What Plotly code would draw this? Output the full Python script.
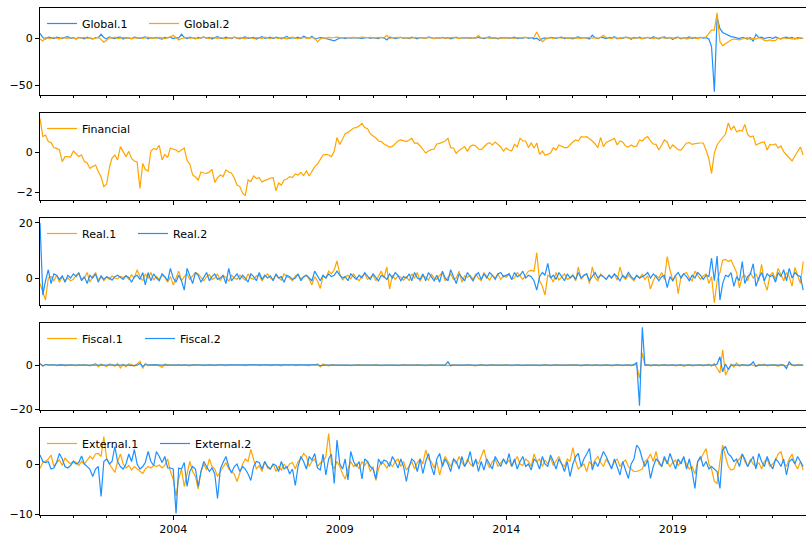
import pandas as pd
import plotly.graph_objects as go
from plotly.subplots import make_subplots

# Monthly observations, Jan 2000 - Dec 2022
dates = pd.date_range("2000-01-01", periods=276, freq="MS")

global_1 = [
    5.0, 0.5, -1.0, 1.0, 0.5, -0.5, 1.0, 0.0, -0.5, 0.8, 1.5, -0.3,
    0.5, -1.0, 0.8, 0.2, -0.8, 1.0, 0.0, -1.2, 0.6, 0.3, 4.0, 0.5,
    -0.8, 1.2, 0.0, -0.5, 0.8, 1.0, -1.0, 0.4, 0.0, -0.6, 0.9, 0.2,
    -0.4, 0.6, 1.2, -0.8, 0.3, 0.0, 0.8, -0.5, -1.0, 0.7, 0.2, 1.0,
    -0.6, 0.5, 0.0, 4.0, 0.8, -0.5, 1.0, 0.3, -0.8, 0.6, 0.0, 1.2,
    -0.3, 0.8, -1.0, 0.5, 1.5, 0.0, -0.6, 0.9, 0.3, -0.5, 1.0, 0.2,
    -0.8, 0.6, 1.2, -0.4, 0.0, 0.8, -1.0, 0.5, 1.5, -0.3, 0.2, 0.9,
    -0.5, 1.0, 0.3, -0.8, 0.6, 1.8, -0.6, 0.4, 0.0, 1.0, -0.4, 2.0,
    0.5, -0.3, 2.0, -0.8, -0.2, 0.6, 0.3, -0.5, -1.5, -1.5, -3.0, -1.5,
    0.0, 0.4, -0.5, 0.3, -0.2, 0.5, 0.0, 0.3, -0.4, 0.2, 0.6, -0.3,
    0.4, 0.0, -0.6, 0.8, 0.2, -2.0, 1.0, 0.5, -0.5, 0.2, 0.8, -0.4,
    0.3, -0.5, 1.0, 0.2, -0.8, 0.6, 0.0, -0.4, 1.2, 0.3, -0.6, 0.5,
    0.0, 0.8, -0.3, 0.5, -0.8, 0.2, 1.0, -0.5, 0.3, 0.0, 0.6, -0.4,
    0.5, -0.2, 0.8, 0.0, -0.6, 0.4, 1.2, -0.3, 0.2, -0.8, 0.5, 0.0,
    0.6, -0.4, 0.3, 1.0, -0.5, 0.2, 0.0, 0.8, -0.3, 0.5, -0.8, 0.0,
    -2.5, -0.5, 0.2, -0.6, 0.8, 0.0, -0.4, 0.6, 1.0, -0.5, 0.3, 0.0,
    -0.8, 0.5, 1.2, -0.3, 0.6, 0.0, -1.0, 3.0, 0.3, -0.5, 0.8, 0.5,
    -0.5, 0.8, 0.0, 1.5, -0.8, 0.3, -0.4, 1.0, 0.5, -1.2, 0.6, 0.0,
    1.0, -0.5, 0.3, 0.8, -0.6, 1.5, 0.0, -0.8, 0.5, 1.2, -0.3, 0.6,
    -1.5, 0.5, 1.0, -0.8, 0.3, 0.0, 1.2, -0.5, 0.6, -0.3, 0.8, 0.0,
    0.5, -1.0, -9.0, -57.0, 22.0, 10.0, 6.0, 4.5, 3.0, 1.5, 1.0, 0.5,
    -0.5, 0.8, 0.0, -1.0, 0.6, -3.5, 4.0, 0.5, 1.0, -0.5, 0.3, 0.8,
    -0.6, 1.2, 0.0, -0.8, 0.5, 1.0, -0.3, 0.6, -1.0, 0.4, 0.0, -0.5,
]

global_2 = [
    -1.0, -3.0, 0.5, 0.0, -0.5, 0.8, 0.2, -0.8, 0.5, 0.0, -0.3, 0.6,
    0.2, -0.5, 0.4, 0.0, 0.8, -0.3, 0.5, -0.6, 0.0, 1.0, -1.5, -4.5,
    -2.0, 0.5, 0.0, 1.0, -0.5, 0.3, 0.8, -0.2, 0.5, -0.8, 0.3, 0.0,
    0.6, -0.4, 0.2, 1.0, -0.6, 0.3, 0.0, 0.8, 0.2, -0.5, 0.6, 1.2,
    3.0, 0.5, -2.0, -0.5, 0.3, 0.8, -0.3, 0.5, 0.0, -0.6, 0.4, 1.0,
    0.2, -0.5, 0.8, 0.0, -0.4, 0.6, 0.3, -0.8, 0.5, 0.0, 1.0, -0.3,
    0.5, 0.0, -0.6, 0.8, 0.3, -0.5, 0.6, 0.0, -0.3, 1.0, 0.2, -0.5,
    0.6, 0.0, -0.4, 0.5, 0.2, -0.8, 0.4, 1.0, 0.0, -0.5, 0.3, 0.8,
    0.0, -0.3, 0.6, 0.2, -4.0, -1.0, 0.5, 0.0, 0.8, 0.3, 0.6, 1.0,
    0.5, 0.8, 0.3, 0.6, 0.2, 0.8, 0.5, 0.3, 1.0, 0.6, 0.4, 0.8,
    0.5, 0.2, 0.8, 0.6, 0.3, 3.0, -0.5, 0.4, 0.6, 0.2, 0.8, 0.3,
    0.6, 0.3, 0.0, 0.8, 0.4, 0.2, 0.5, 0.0, 0.6, 0.3, -0.3, 0.5,
    0.2, 0.6, 0.3, 0.0, 0.5, 0.8, 0.2, -0.4, 0.3, 0.6, 0.0, 0.4,
    0.5, 0.2, 3.0, 0.0, 0.4, 0.6, -0.3, 0.5, 0.2, 0.0, 0.6, 0.3,
    0.0, 0.5, 0.3, -0.4, 0.6, 0.2, 0.8, 0.5, 0.0, 0.4, 0.8, 6.5,
    0.5, -4.0, -1.5, 0.0, 0.3, -0.5, 0.6, 0.2, 0.0, 0.8, -0.3, 0.4,
    0.3, 0.6, 0.0, -0.4, 0.5, 0.2, 0.8, 0.0, 0.4, -0.3, 0.6, 3.0,
    0.5, 0.0, -0.3, 0.6, 0.2, -0.5, 0.4, 0.8, 0.0, 0.3, -0.4, 0.6,
    0.0, -0.5, 0.3, 0.8, 0.2, -0.6, 0.5, 0.0, 1.0, -0.3, 0.4, 0.6,
    0.2, -0.4, 0.6, 0.0, 0.5, -1.0, 0.3, 0.8, 0.0, -0.5, 0.4, 0.6,
    1.0, 5.0, 8.5, 8.5, 27.0, -4.0, -8.0, -6.0, -4.0, -2.0, -1.0, -1.5,
    -2.0, -1.0, -0.5, 0.5, -1.5, 0.0, -1.0, 0.3, -0.5, -2.5, -3.0, -2.0,
    -3.0, -2.5, 0.0, -1.0, 0.5, -0.5, 0.3, -1.0, 0.0, -0.8, 0.5, -0.5,
]

financial = [
    1.68, 0.77, 0.85, 0.52, 0.47, 0.22, 0.18, 0.10, -0.48, -0.23, -0.23, -0.25,
    0.05, -0.10, -0.22, -0.15, -0.48, -0.55, -0.82, -0.72, -0.65, -0.98, -1.25, -1.73,
    -1.60, -0.75, -0.30, -0.15, -0.40, 0.27, 0.05, -0.23, 0.03, -0.32, -0.45, -0.50,
    -1.82, -0.57, -0.88, -0.95, 0.05, 0.18, 0.12, 0.33, -0.40, -0.12, -0.28, 0.20,
    0.14, 0.10, 0.00, 0.10, 0.20, -0.43, -0.60, -1.15, -1.25, -1.40, -1.00, -1.05,
    -1.07, -1.00, -0.87, -1.52, -1.28, -1.15, -1.23, -0.90, -1.00, -1.05, -1.30, -1.65,
    -1.73, -2.07, -2.18, -1.40, -1.48, -1.20, -1.32, -1.28, -1.50, -1.42, -1.38, -1.30,
    -1.28, -1.95, -1.55, -1.65, -1.40, -1.35, -1.23, -1.28, -1.10, -1.15, -1.02, -1.18,
    -0.95, -1.20, -0.95, -0.73, -0.60, -0.35, -0.15, -0.12, -0.15, -0.23, 0.03, 0.72,
    0.38, 0.65, 0.92, 0.98, 1.10, 1.20, 1.22, 1.30, 1.43, 1.22, 1.16, 0.92,
    0.80, 0.70, 0.55, 0.52, 0.40, 0.34, 0.25, 0.28, 0.43, 0.55, 0.60, 0.55,
    0.52, 0.60, 0.68, 0.43, 0.45, 0.30, 0.10, -0.05, 0.05, 0.12, 0.15, 0.40,
    0.43, 0.48, 0.55, 0.68, 0.22, 0.20, -0.07, 0.08, 0.20, 0.27, 0.03, 0.28,
    0.35, 0.30, 0.15, 0.12, 0.25, 0.40, 0.47, 0.35, 0.50, 0.40, 0.25, 0.05,
    0.20, 0.10, 0.05, 0.38, 0.25, 0.68, 0.55, 0.55, 0.22, 0.45, 0.20, 0.45,
    -0.12, 0.05, -0.15, -0.12, -0.05, 0.22, 0.10, 0.35, 0.30, 0.22, 0.22, 0.38,
    0.50, 0.60, 0.55, 0.77, 0.75, 0.77, 0.68, 0.55, 0.40, 0.22, 0.73, 0.27,
    0.48, 0.55, 0.65, 0.68, 0.35, 0.55, 0.50, 0.30, 0.25, 0.35, 0.27, 0.30,
    0.60, 0.55, 0.70, 0.77, 0.55, 0.40, 0.38, 0.10, 0.35, 0.60, 0.50, 0.15,
    0.35, 0.25, 0.12, 0.10, 0.25, 0.45, 0.47, 0.38, 0.42, 0.45, 0.45, 0.45,
    0.10, -0.35, -1.07, -0.05, 0.35, 0.55, 0.75, 0.90, 1.45, 1.10, 1.30, 1.00,
    1.08, 1.05, 1.38, 0.88, 0.75, 0.80, 0.35, 0.42, 0.48, 0.50, 0.10, 0.38,
    0.35, 0.40, 0.20, 0.30, 0.02, -0.15, -0.30, -0.45, -0.20, 0.05, 0.25, -0.15,
]

real_1 = [
    -2.0, -5.0, -8.0, 0.0, 0.5, -1.0, 1.0, -1.5, 0.5, -1.0, 0.0, -1.0,
    -0.5, 1.0, 1.5, -0.5, 0.0, 2.0, -1.5, 0.5, 2.0, -0.8, 0.5, -1.0,
    0.3, -0.5, 0.8, 0.0, -0.3, 0.6, 0.2, 0.8, -0.5, 1.2, 0.0, 3.0,
    0.5, -1.0, 1.5, 0.0, 2.0, -0.8, 0.6, -0.5, 1.0, 0.3, -1.5, 0.5,
    -2.5, 0.0, 2.5, -1.0, 0.5, 1.5, -0.5, 0.8, 2.0, 1.5, 0.0, -1.0,
    0.5, 1.2, -0.5, 0.0, 1.5, -1.0, 0.8, 0.3, -1.2, 1.0, 0.0, -0.5,
    1.0, 0.2, -0.8, 1.5, 0.0, -0.5, 0.8, 1.0, -1.0, 0.5, 1.5, 0.0,
    -0.5, 1.0, 0.3, -0.8, 1.5, 0.5, 0.0, -1.0, 0.8, 1.2, -0.3, 0.5,
    1.0, -0.5, -2.5, 0.5, -1.0, -3.8, 0.8, 0.0, 2.5, 1.5, 3.0, 6.2,
    1.5, -0.8, 0.5, 1.0, -0.3, 1.5, 0.0, -1.0, 0.8, 1.5, -0.5, 0.3,
    1.0, -1.0, 0.5, 2.5, 0.0, 4.0, -4.0, 1.0, -0.5, 0.8, 0.3, -0.8,
    0.5, -1.0, 1.5, 0.0, 2.0, -1.2, 0.8, 0.3, -0.8, 1.5, 0.0, -0.5,
    1.0, 2.0, -1.0, 0.5, 1.5, -0.5, 0.0, 2.5, -1.5, 0.8, 0.3, 1.0,
    -0.5, 1.5, 0.0, -1.0, 2.0, 0.5, -0.8, 1.0, 0.0, 1.5, -0.5, 0.8,
    0.3, 1.5, -0.5, 0.0, 2.0, 0.8, -0.5, 1.0, 2.5, 2.8, 2.5, 9.2,
    -1.0, -3.0, -6.2, 1.0, 0.5, -1.5, 2.0, -0.8, 0.5, 1.5, -0.5, 0.0,
    1.0, -1.0, 4.0, -0.5, 0.8, 1.5, -2.0, 4.0, 0.0, -1.0, 1.5, 0.5,
    -0.5, 1.0, 0.0, 1.5, -0.8, 4.0, 0.5, -0.5, 1.0, 0.0, -1.0, 0.8,
    0.0, 1.5, -0.5, 0.8, -4.0, -1.0, 1.0, 0.0, 2.0, -0.5, 7.8, 3.0,
    -1.0, 1.0, -5.7, 0.5, 1.5, 2.0, 0.0, -1.0, 2.5, 1.0, -0.5, 0.8,
    1.5, -2.0, 0.5, -9.0, -1.0, 2.0, 6.5, 6.8, 6.0, 6.5, 4.0, 2.0,
    -3.6, 0.5, 1.0, -1.0, 2.0, 0.0, 1.5, -1.0, 5.0, -1.5, -4.5, 1.0,
    2.0, -0.5, 3.5, 1.0, -1.0, 2.0, 0.5, -3.0, 3.8, 1.0, -2.0, 6.0,
]

real_2 = [
    20.0, -6.2, -1.0, 3.0, -2.0, 1.5, 1.0, -0.5, 0.8, -1.5, 1.0, 0.0,
    1.5, 0.5, 2.0, -1.0, 0.5, -2.0, 1.0, 0.0, 1.5, -1.5, 0.8, -0.5,
    0.5, 0.0, -0.8, 0.5, 1.0, 0.3, -0.5, 0.8, 0.2, -1.5, 0.5, 1.0,
    -0.5, 2.0, -2.5, 2.0, -1.0, 1.5, 0.0, -1.0, 1.5, 0.5, -1.0, 3.5,
    0.0, -1.5, 1.0, -1.0, -4.4, 3.5, 0.5, -2.0, 2.0, 1.0, -1.5, 0.5,
    2.0, -1.0, 0.5, 1.5, -0.5, 0.0, 1.0, -2.0, 3.5, -1.0, 0.5, 1.5,
    -0.5, 1.0, 0.0, -1.5, 1.5, 0.5, -1.0, 2.0, -0.5, 1.0, 0.0, 0.8,
    -1.0, 1.5, 0.0, 0.5, -1.5, 1.0, 0.5, -0.5, 0.0, 1.5, -1.0, 0.5,
    1.0, 0.0, -1.0, 2.5, 0.5, -1.0, 1.0, 0.0, 1.5, 0.5, 1.0, 2.5,
    1.0, 0.0, 0.5, -1.0, 1.5, 0.5, -0.5, 1.0, 0.0, 2.0, 0.5, -0.5,
    1.5, 0.0, -1.0, 1.0, 0.5, -0.5, 1.5, 0.0, 2.0, 1.0, -1.0, 0.5,
    0.0, 1.5, -1.0, 2.0, 0.0, -0.5, 1.5, -1.0, 2.0, 0.5, -1.0, 1.0,
    -1.5, 2.5, 0.0, -1.0, 3.0, 0.5, -2.0, 1.5, 0.0, -1.0, 2.0, 0.5,
    -1.0, 1.0, 2.0, -0.5, 1.5, 0.0, 2.0, 1.0, -0.5, 1.5, 2.0, 0.5,
    1.0, 1.5, -0.5, 2.0, 0.5, 1.0, 2.5, 0.0, 1.0, 0.5, -1.0, -4.4,
    0.5, 2.0, 1.0, 5.3, 0.0, 1.0, -0.5, 2.0, 0.5, -1.0, 1.5, 0.0,
    1.0, -0.5, 2.0, 0.0, 1.0, 1.5, -1.0, 0.5, 2.0, 0.0, 1.0, 0.5,
    -0.5, 1.0, 0.0, 1.5, 0.5, -1.0, 1.0, 0.0, 2.0, 0.5, -0.5, 1.0,
    0.0, 0.5, 1.0, 2.0, 0.0, 1.5, 0.5, -1.0, 0.5, 1.0, -3.5, 0.5,
    -1.0, 1.0, 2.0, 0.0, 1.5, 0.5, -1.0, 1.0, 0.0, 2.0, 1.0, -0.5,
    1.0, 0.5, 7.2, -1.0, 8.0, -8.0, -2.0, 1.0, 0.5, 2.0, -3.0, 0.5,
    -1.0, 6.0, -2.0, 0.5, 1.5, 5.2, -3.0, 0.0, 2.0, -1.0, 1.5, 0.5,
    1.0, -1.5, 2.0, 0.5, 3.0, -1.0, 3.5, 0.0, 2.0, 1.0, 0.5, -4.4,
]

fiscal_1 = [
    0.5, -0.5, 0.3, 0.0, 0.0, 0.2, -0.2, 0.0, 0.3, -0.3, 0.0, 0.2,
    0.0, -0.2, 0.2, 0.0, 0.3, 0.0, -0.3, 0.2, 0.8, -0.8, 0.5, 0.0,
    -0.6, 0.6, 0.3, -0.5, 0.8, -1.2, 0.5, -0.8, 0.6, 0.3, -0.5, 0.6,
    1.8, -1.5, 0.8, -0.3, 0.2, 0.0, 0.3, -0.3, -1.0, 0.5, 0.0, 0.2,
    0.0, 0.0, 0.2, -0.2, 0.3, 0.0, -0.3, 0.2, 0.0, 0.3, 0.0, -0.2,
    0.0, 0.2, 0.0, -0.2, 0.0, 0.3, 0.0, -0.2, 0.0, 0.2, 0.0, 0.0,
    0.2, 0.0, -0.2, 0.0, 0.2, 0.0, 0.3, -0.2, 0.0, 0.2, 0.0, -0.2,
    0.0, 0.2, 0.0, -0.3, 0.2, 0.0, 0.0, 0.3, -0.2, 0.0, 0.2, 0.0,
    0.0, -0.2, 0.3, 0.0, 0.5, -0.8, 0.6, 0.0, -0.3, 0.2, 0.0, 0.0,
    0.0, 0.0, 0.2, 0.0, -0.2, 0.0, 0.0, 0.2, 0.0, 0.0, -0.2, 0.0,
    0.0, 0.2, 0.0, -0.2, 0.0, 0.0, 0.2, 0.0, 0.0, -0.2, 0.0, 0.2,
    0.0, 0.0, -0.2, 0.0, 0.2, 0.0, 0.0, -0.2, 0.0, 0.2, 0.0, 0.0,
    0.2, 0.0, 0.0, -0.2, 0.0, 0.3, 0.0, 0.0, -0.2, 0.0, 0.2, 0.0,
    0.0, -0.3, 0.0, 0.3, 0.0, -0.2, 0.0, 0.2, 0.0, 0.0, -0.3, 0.0,
    0.2, 0.0, -0.2, 0.0, 0.3, 0.0, -0.2, 0.0, 0.0, 0.2, 0.0, 0.0,
    -0.2, 0.0, 0.3, 0.0, -0.2, 0.0, 0.2, 0.0, 0.0, -0.2, 0.0, 0.2,
    0.0, 0.3, 0.0, -0.3, 0.0, 0.2, 0.0, -0.2, 0.3, 0.0, -0.2, 0.0,
    0.2, 0.0, -0.3, 0.0, 0.3, 0.0, -0.2, 0.0, 0.3, -0.3, 0.5, 0.0,
    -6.0, 5.6, 0.0, 0.3, -0.3, 0.0, 0.2, -0.3, 0.0, 0.4, -0.2, 0.0,
    0.2, -0.3, 0.0, 0.3, -0.5, 0.0, 0.3, -0.3, 0.0, 0.0, 0.3, -0.3,
    0.0, 0.5, -0.5, 0.8, -1.5, -3.5, 7.0, -4.5, -2.0, 0.5, -0.8, 1.0,
    -0.5, 0.3, 0.0, -0.3, 0.5, 0.0, -0.5, 0.3, 0.0, 0.5, -0.3, 0.0,
    0.3, 0.0, -0.5, 0.3, 0.0, -0.3, 0.5, 0.0, -0.3, 0.3, 0.0, 0.0,
]

fiscal_2 = [
    0.8, -0.3, 0.3, 0.0, 0.2, 0.0, 0.0, 0.1, 0.0, 0.0, 0.1, 0.0,
    0.0, 0.0, 0.1, 0.0, 0.0, 0.0, -0.1, 0.0, 0.0, 0.1, 0.0, 0.0,
    0.0, 0.1, 0.0, 0.0, -0.1, 0.0, 0.0, 0.2, 0.0, -0.2, 0.0, 0.0,
    0.8, -0.6, 0.3, 0.0, 0.0, 0.1, 0.0, 0.0, -0.2, 0.0, 0.0, 0.0,
    0.0, 0.1, 0.0, 0.0, 0.0, -0.1, 0.0, 0.0, 0.1, 0.0, 0.0, 0.0,
    0.0, 0.0, 0.1, 0.0, 0.0, 0.0, 0.0, -0.1, 0.0, 0.0, 0.0, 0.1,
    0.0, 0.0, 0.0, 0.1, 0.0, 0.0, 0.0, 0.0, -0.1, 0.0, 0.0, 0.0,
    0.1, 0.0, 0.0, 0.0, 0.0, 0.1, 0.0, 0.0, 0.0, 0.0, -0.1, 0.0,
    0.0, 0.0, 0.1, 0.0, 0.2, -0.2, 0.0, 0.0, 0.0, 0.1, 0.0, 0.0,
    0.0, 0.0, 0.0, 0.1, 0.0, 0.0, 0.0, 0.0, 0.0, -0.1, 0.0, 0.0,
    0.0, 0.1, 0.0, 0.0, 0.0, 0.0, 0.0, 0.1, 0.0, 0.0, 0.0, 0.0,
    0.0, 0.0, 0.0, -0.1, 0.0, 0.0, 0.1, 0.0, 0.0, 0.0, 0.0, 0.0,
    0.0, 0.0, 0.0, 1.5, -0.3, 0.0, 0.0, 0.0, 0.0, 0.0, 0.1, 0.0,
    0.0, 0.0, 0.0, 0.0, 0.1, 0.0, 0.0, 0.0, 0.0, 0.0, 0.0, -0.1,
    0.0, 0.0, 0.1, 0.0, 0.0, 0.0, 0.0, 0.0, 0.0, 0.1, 0.0, 0.0,
    0.0, 0.0, 0.0, 0.0, -0.1, 0.0, 0.0, 0.0, 0.1, 0.0, 0.0, 0.0,
    0.0, 0.1, 0.0, 0.0, 0.0, 0.0, 0.0, 0.0, 0.0, 0.0, 0.1, 0.0,
    0.0, 0.0, 0.0, 0.0, 0.1, 0.0, 0.0, 0.0, 0.0, 0.0, 0.0, 1.3,
    -18.4, 17.2, 0.0, 0.0, 0.0, 0.1, 0.0, 0.0, 0.0, 0.0, 0.0, 0.0,
    0.0, 0.0, 0.0, 0.0, 0.3, 0.0, 0.0, 0.0, 0.0, 0.0, 0.0, 0.0,
    0.0, 0.0, 0.0, 0.0, 0.5, 3.8, -3.0, 0.5, -2.0, 0.0, 0.0, 0.0,
    0.0, 0.0, 0.0, 0.0, 0.0, 1.5, -0.5, 0.0, 0.0, 0.0, 0.0, 0.0,
    0.0, 0.0, 0.0, 0.0, 0.0, -1.5, 1.5, 0.0, 0.0, 0.0, 0.0, 0.0,
]

external_1 = [
    -0.9, 0.3, 0.5, 1.0, 1.8, -0.5, 0.3, 0.8, -0.3, 1.2, 0.5, 0.0,
    0.6, 0.3, -0.3, 0.5, 0.0, 0.8, 1.5, 1.0, 2.0, 2.1, 1.5, 5.5,
    1.1, 0.0, -0.8, -1.7, 0.5, 2.0, 0.0, -0.8, -0.3, -1.2, -0.5, -1.0,
    -1.5, -1.9, -1.0, -0.5, -0.8, -0.3, -0.5, -0.2, -0.8, -0.3, 1.0, -1.5,
    -3.0, -6.5, -3.0, -1.0, -4.5, -2.0, 0.5, -1.5, -2.5, -5.0, -1.5, 0.0,
    -1.2, 1.0, -0.5, -1.0, -2.5, -1.5, -0.5, 0.3, -1.0, -1.5, -2.0, -3.5,
    -1.5, 0.0, 1.0, 0.5, 2.9, 1.0, -1.0, -0.3, -1.5, 0.5, -0.8, -1.0,
    0.0, -1.5, -0.5, -1.2, 0.0, -0.8, 0.0, 0.3, -1.0, 0.5, 1.0, 2.1,
    1.5, -0.5, 0.5, 1.0, -0.5, 0.2, 0.5, 1.5, 6.1, 0.0, -1.0, 0.5,
    -0.5, -2.0, -3.0, -1.0, 0.5, -0.5, 0.0, -1.0, 0.5, -0.3, 0.5, -1.5,
    -0.5, -3.3, -1.0, 0.5, 0.0, -0.8, 0.3, -0.5, 0.5, 1.0, -0.5, 0.5,
    -1.2, -0.5, 0.5, -1.0, 0.3, 1.0, 0.0, 2.8, 1.0, 0.5, -0.8, 0.5,
    -2.2, 0.0, 1.5, 0.5, -0.5, 0.8, 0.0, 1.5, 0.3, -0.5, 1.0, 0.0,
    -0.5, 0.8, 0.0, 1.5, 2.9, 0.5, -0.8, 0.5, 1.0, -0.5, 0.3, 1.0,
    0.0, 0.8, -0.5, 0.5, 1.5, 0.0, -0.3, 1.0, 0.5, -0.5, 2.0, 0.5,
    1.0, -0.5, 0.8, 0.0, 1.2, -0.3, 0.5, 1.5, 0.0, -0.5, 1.0, 0.5,
    3.3, 0.5, -1.0, -0.5, 0.0, -1.5, 0.5, -0.3, 0.8, 1.5, 0.3, -0.5,
    1.0, 0.0, -0.8, 0.5, 1.0, -0.5, 0.3, 0.8, -0.5, -1.0, -1.5, -1.5,
    -1.3, -1.0, 0.5, 1.0, 2.0, 0.5, 2.5, 0.0, -0.5, 1.0, 0.5, -0.5,
    0.3, 0.8, -0.3, 0.5, 1.2, 0.0, -1.0, -0.5, -2.0, 0.5, 1.0, 2.0,
    3.1, 0.0, -1.0, -3.5, -3.9, 0.5, 3.8, 1.5, -0.5, -1.2, -1.0, 0.5,
    1.0, 2.0, 0.5, -0.5, 1.0, 0.0, -0.5, 0.3, -1.0, 0.5, 1.0, -0.5,
    0.0, 0.8, 2.0, 2.5, 0.3, -0.5, 1.0, 2.0, 0.0, -1.0, 0.5, -1.2,
]

external_2 = [
    1.8, 0.5, 0.3, 0.5, -1.0, -0.8, 0.3, 2.1, 1.0, -0.5, -0.8, -0.3,
    0.5, 0.0, 0.3, 1.6, 0.0, -0.5, -1.0, -2.5, -1.0, -0.5, -6.5, 0.5,
    1.0, 0.0, 0.5, 3.5, 0.5, -0.5, -1.0, 0.0, 2.0, 0.5, 2.9, 0.0,
    -1.0, -0.5, 0.3, 2.5, 0.5, -0.3, 2.5, 1.5, 0.3, 1.5, -0.8, -0.8,
    -1.0, -9.9, -0.8, -1.0, 0.3, -4.5, -1.5, -0.5, -1.0, -4.5, -1.5, 0.5,
    -0.5, -1.5, -0.8, -2.0, -6.9, -1.0, 0.3, 1.5, -0.5, -1.8, -0.5, 0.0,
    -1.5, -0.5, -1.0, -2.0, -3.3, -0.5, 0.5, 0.3, -1.0, 0.5, -0.5, -1.0,
    0.0, -0.3, -1.5, 0.5, -1.0, -0.5, -2.0, -1.0, -4.3, -0.5, 1.5, 0.5,
    -1.0, 1.5, 0.8, 2.1, -0.8, -1.2, 2.0, -2.2, 1.0, 2.0, -3.9, 4.8,
    0.0, -1.0, 1.0, -3.2, 2.5, 0.5, -0.5, 0.5, -3.0, 1.0, 0.5, -0.5,
    -1.0, -3.0, 1.0, 0.0, 0.8, 0.5, -0.5, 1.5, 0.5, -0.8, 1.0, -0.5,
    -3.5, -0.5, 1.0, 0.5, -1.5, 1.0, -1.9, 0.5, 2.1, -0.5, -2.2, 1.0,
    2.1, -0.5, 1.0, 0.0, -1.5, 1.0, 0.5, -1.0, 1.5, -0.5, 0.5, 2.5,
    -0.5, 1.0, -1.5, 0.5, -1.2, 1.0, 0.0, -1.0, 1.5, 0.5, -0.5, 1.0,
    0.0, 2.1, -0.5, 1.0, -1.0, 0.5, 1.5, -0.5, 0.0, -1.2, 1.0, 0.5,
    -1.0, 1.5, 0.0, -0.5, 1.8, 0.5, -1.0, 1.0, 0.0, -1.5, 0.5, -2.5,
    0.0, 1.5, 2.1, -0.5, 1.0, 2.0, 3.1, -1.2, 0.5, -0.5, 1.0, 2.5,
    1.5, 0.0, -1.0, 1.0, -0.5, -2.2, 0.5, -1.0, -2.9, 0.0, 1.0, 3.8,
    3.0, 1.0, -0.5, 0.8, -2.9, -0.5, 1.0, 0.5, -0.5, 1.5, 0.0, 2.1,
    0.5, -1.0, 1.0, 0.0, 1.5, -1.0, 1.0, -1.5, -4.9, 0.5, 1.5, -0.5,
    0.5, -1.0, -0.5, -1.0, -1.5, -4.9, 2.8, 3.5, 2.0, 1.5, 0.5, 1.0,
    -0.5, 2.0, 1.0, -0.5, 0.5, 1.5, -1.0, 2.1, 0.5, -0.5, 1.5, 0.0,
    -1.0, 1.0, 0.5, -0.5, 1.0, -2.2, 0.5, 1.0, 0.0, 1.5, 0.5, -0.5,
]

ORANGE = "#FFA500"
BLUE = "#1E90FF"
FONT = "DejaVu Sans"

# one entry per stacked panel: (series name, values, colour)
panels = [
    [("Global.1", global_1, BLUE), ("Global.2", global_2, ORANGE)],
    [("Financial", financial, ORANGE)],
    [("Real.1", real_1, ORANGE), ("Real.2", real_2, BLUE)],
    [("Fiscal.1", fiscal_1, ORANGE), ("Fiscal.2", fiscal_2, BLUE)],
    [("External.1", external_1, ORANGE), ("External.2", external_2, BLUE)],
]
y_ranges = [[-60.6, 32.0], [-2.4, 1.95], [-9.8, 21.8], [-20.3, 19.1], [-10.2, 7.2]]
y_dticks = [50, 2, 20, 20, 10]
entry_widths = [57, 57, 46, 53, 68]

W, H = 806, 536
ML, MR, MT, MB = 40, 0, 8, 21
plot_h = H - MT - MB

fig = make_subplots(rows=5, cols=1, shared_xaxes=True,
                    vertical_spacing=18 / plot_h)

for r, series in enumerate(panels, start=1):
    leg = "legend" if r == 1 else f"legend{r}"
    for name, vals, col in series:
        fig.add_trace(go.Scatter(
            x=dates, y=vals, name=name, mode="lines",
            line=dict(color=col, width=1.2),
            legend=leg, showlegend=True,
        ), row=r, col=1)

# a separate horizontal legend in the upper-left corner of every panel
layout_legends = {}
for r in range(1, 6):
    dom = fig.layout[f"yaxis{'' if r == 1 else r}"].domain
    top_px = MT + (1 - dom[1]) * plot_h
    key = "legend" if r == 1 else f"legend{r}"
    layout_legends[key] = dict(
        x=2 / (W - ML - MR), xanchor="left",
        y=1 - (top_px + 1 - MT) / plot_h, yanchor="top",
        orientation="h", bgcolor="rgba(0,0,0,0)", borderwidth=0,
        font=dict(family=FONT, size=11, color="#000"),
        entrywidth=entry_widths[r - 1], entrywidthmode="pixels",
        tracegroupgap=0,
    )
fig.update_layout(**layout_legends)

major = ["2004-01-01", "2009-01-01", "2014-01-01", "2019-01-01"]
for r in range(1, 6):
    fig.update_xaxes(
        row=r, col=1, type="date",
        range=["2000-01-01", "2023-01-01"],
        tickvals=major, ticktext=["2004", "2009", "2014", "2019"],
        ticks="outside", ticklen=4, tickwidth=1, tickcolor="#000",
        minor=dict(ticks="outside", ticklen=2, tickwidth=1, tickcolor="#000",
                   dtick="M12", tick0="2000-01-01", showgrid=False),
        showticklabels=(r == 5),
        showline=True, mirror=True, linecolor="#000", linewidth=1,
        showgrid=False, zeroline=False,
        tickfont=dict(family=FONT, size=11, color="#000"),
    )
    fig.update_yaxes(
        row=r, col=1, range=y_ranges[r - 1], dtick=y_dticks[r - 1], tick0=0,
        ticks="outside", ticklen=4, tickwidth=1, tickcolor="#000",
        showline=True, mirror=True, linecolor="#000", linewidth=1,
        showgrid=False, zeroline=False,
        tickfont=dict(family=FONT, size=11, color="#000"),
    )

fig.update_layout(
    width=W, height=H,
    margin=dict(l=ML, r=MR, t=MT, b=MB, pad=0),
    paper_bgcolor="white", plot_bgcolor="white",
    font=dict(family=FONT, size=11, color="#000"),
    hovermode=False,
)

fig.write_html("out.html")
